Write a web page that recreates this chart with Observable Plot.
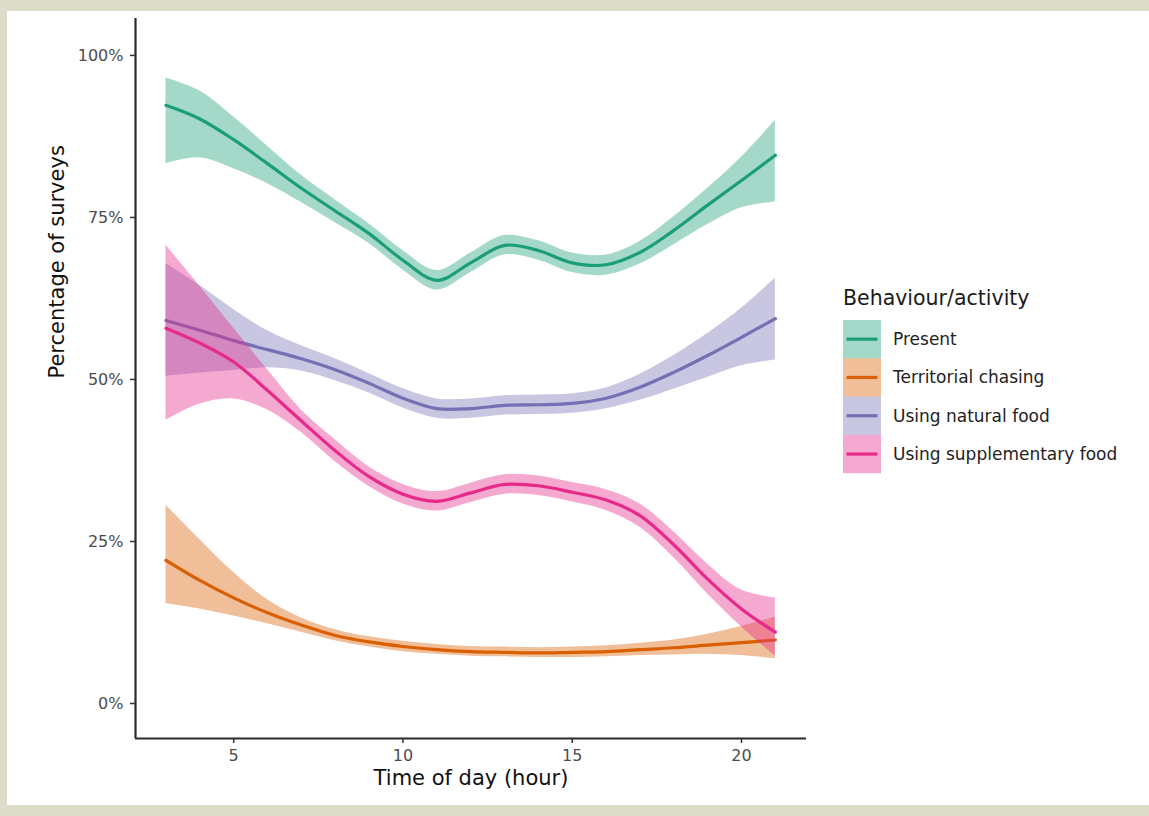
<!DOCTYPE html>
<html><head><meta charset="utf-8">
<script src="https://cdn.jsdelivr.net/npm/d3@7"></script>
<script src="https://cdn.jsdelivr.net/npm/@observablehq/plot@0.6"></script>
<style>
body{margin:0;background:#dcdcc8;width:1149px;height:816px;overflow:hidden;position:relative;font-family:"DejaVu Sans",sans-serif;}
#panel{position:absolute;left:7px;top:11px;width:1142px;height:794px;background:#fff;}
#chart{position:absolute;left:0;top:0;}
#legend{position:absolute;left:836px;top:270px;}
</style></head>
<body><div id="panel"><div id="chart"></div><div id="legend"></div></div>
<script>
const hours = [3,4,5,6,7,8,9,10,11,12,13,14,15,16,17,18,19,20,21];
const seriesNames = ["Present","Territorial chasing","Using natural food","Using supplementary food"];
const seriesColors = ["#1B9E77","#D95F02","#7570B3","#E7298A"];
const yTicks = [0,25,50,75,100];
const xTicks = [5,10,15,20];

const presentFit = [92.3,90.2,87.0,83.3,79.5,76.0,72.5,68.4,65.3,68.0,70.7,69.9,68.0,67.7,69.6,73.0,76.9,80.7,84.6];
const presentHi  = [96.5,94.5,90.5,86.0,81.5,77.7,74.0,69.9,66.8,69.5,72.2,71.4,69.5,69.2,71.3,75.1,79.5,84.3,90.0];
const presentLo  = [83.3,84.2,82.5,80.2,77.3,74.2,71.0,66.9,63.8,66.5,69.2,68.4,66.5,66.1,67.8,70.8,73.9,76.5,77.4];

const chasingFit = [22.1,19.0,16.3,14.0,12.1,10.5,9.5,8.8,8.3,8.0,7.9,7.8,7.9,8.0,8.3,8.6,9.0,9.4,9.8];
const chasingHi  = [30.6,25.3,20.2,16.0,13.2,11.4,10.3,9.6,9.1,8.8,8.7,8.6,8.7,8.9,9.3,9.8,10.7,11.9,13.3];
const chasingLo  = [15.4,14.6,13.5,12.3,11.0,9.7,8.7,8.0,7.6,7.3,7.2,7.1,7.1,7.2,7.4,7.5,7.6,7.4,6.9];

const naturalFit = [59.1,57.6,56.0,54.6,53.2,51.5,49.4,47.1,45.5,45.5,46.0,46.1,46.3,47.1,48.8,51.1,53.7,56.5,59.4];
const naturalHi  = [67.9,64.5,60.8,57.5,55.2,53.2,50.9,48.6,47.0,47.0,47.5,47.6,47.8,48.7,50.8,53.7,57.1,61.0,65.6];
const naturalLo  = [50.5,51.0,51.4,51.8,51.3,49.8,47.9,45.6,44.0,44.0,44.5,44.6,44.8,45.5,46.8,48.5,50.3,52.1,53.0];

const supplFit = [57.9,55.6,52.7,48.3,43.6,39.0,35.0,32.3,31.2,32.5,33.8,33.6,32.6,31.4,29.0,24.5,19.2,14.6,11.0];
const supplHi  = [70.7,64.4,57.9,51.5,45.3,40.7,36.5,33.8,32.7,34.0,35.3,35.1,34.1,33.0,30.8,26.5,21.5,17.5,16.3];
const supplLo  = [43.7,46.2,47.0,45.3,41.8,37.3,33.5,30.8,29.7,31.0,32.3,32.1,31.1,29.8,27.2,22.5,16.9,11.8,7.3];

const fits = [presentFit, chasingFit, naturalFit, supplFit];
const his = [presentHi, chasingHi, naturalHi, supplHi];
const los = [presentLo, chasingLo, naturalLo, supplLo];

const xDomain = [2.1, 21.92];
const yDomain = [-5.4, 105.7];

const marks = [];
seriesNames.forEach((name, i) => {
  const rows = hours.map((h, j) => ({hour: h, series: name, fit: fits[i][j], lo: los[i][j], hi: his[i][j]}));
  marks.push(Plot.areaY(rows, {x: "hour", y1: "lo", y2: "hi", fill: seriesColors[i], fillOpacity: 0.4, curve: "catmull-rom"}));
  marks.push(Plot.lineY(rows, {x: "hour", y: "fit", stroke: seriesColors[i], strokeWidth: 3.2, curve: "catmull-rom"}));
});

marks.push(
  Plot.axisY({ticks: yTicks, tickFormat: d => d + "%", tickSize: 5, tickPadding: 7, fontSize: 16, stroke: "#333", fill: "#4d4d4d", label: null, strokeWidth: 1.5}),
  Plot.axisX({ticks: xTicks, tickSize: 5, tickPadding: 6, fontSize: 16, stroke: "#333", fill: "#4d4d4d", label: null, strokeWidth: 1.5}),
  Plot.ruleX([xDomain[0]], {stroke: "#2b2b2b", strokeWidth: 2.2}),
  Plot.ruleY([yDomain[0]], {stroke: "#2b2b2b", strokeWidth: 2.2}),
  Plot.text(["Time of day (hour)"], {text: d => d, frameAnchor: "bottom", dy: 40, fontSize: 21, fill: "#111", lineAnchor: "middle"}),
  Plot.text(["Percentage of surveys"], {text: d => d, frameAnchor: "left", dx: -78, rotate: -90, fontSize: 21, fill: "#111", lineAnchor: "middle"})
);

const chart = Plot.plot({
  width: 1142, height: 794,
  marginLeft: 128, marginRight: 343, marginTop: 7, marginBottom: 67,
  x: {domain: xDomain},
  y: {domain: yDomain},
  style: {fontFamily: "DejaVu Sans", background: "transparent", overflow: "visible"},
  marks
});
document.getElementById("chart").append(chart);

// legend
const keyH = 38.3, keyW = 38, keyTop = 39;
const lg = d3.select("#legend").append("svg").attr("width", 306).attr("height", 210)
  .style("font-family", "DejaVu Sans").style("overflow", "visible");
lg.append("text").attr("x", 0).attr("y", 17).attr("dominant-baseline", "central")
  .attr("font-size", 20.5).attr("fill", "#1a1a1a").text("Behaviour/activity");
seriesNames.forEach((name, i) => {
  const y0 = keyTop + keyH * i;
  lg.append("rect").attr("x", 0).attr("y", y0).attr("width", keyW).attr("height", keyH)
    .attr("fill", seriesColors[i]).attr("fill-opacity", 0.4);
  lg.append("line").attr("x1", 3.5).attr("x2", keyW - 3.5).attr("y1", y0 + keyH / 2).attr("y2", y0 + keyH / 2)
    .attr("stroke", seriesColors[i]).attr("stroke-width", 3.2);
  lg.append("text").attr("x", 50).attr("y", y0 + keyH / 2).attr("dominant-baseline", "central")
    .attr("font-size", 17).attr("fill", "#222").text(name);
});
</script></body></html>
